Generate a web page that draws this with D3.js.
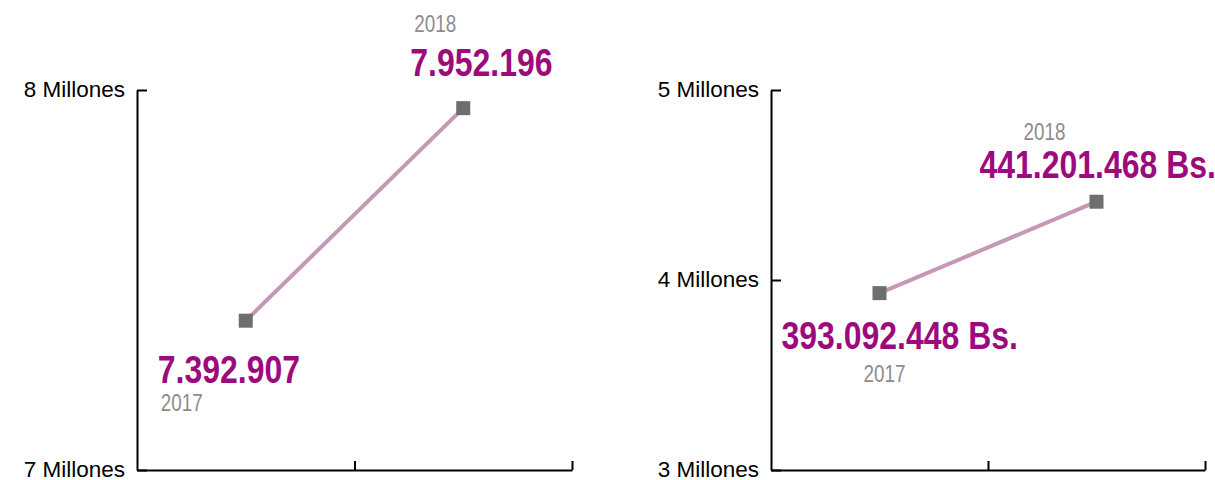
<!DOCTYPE html>
<html><head><meta charset="utf-8">
<script src="https://cdn.jsdelivr.net/npm/d3@7"></script>
<style>
body{margin:0;background:#fff;}
svg{display:block;}
</style></head>
<body><svg id="c" width="1215" height="480"></svg>
<script>
const years = ["2017", "2018"];
const leftValues = [7392907, 7952196];
const leftLabels = ["7.392.907", "7.952.196"];
const leftTicks = [7000000, 8000000];
const rightValues = [3930924.48, 4412014.68];
const rightLabels = ["393.092.448 Bs.", "441.201.468 Bs."];
const rightTicks = [3000000, 4000000, 5000000];

const svg = d3.select("#c");
const sans = "'Liberation Sans', Arial, sans-serif";

function panel(cfg) {
  const g = svg.append("g");
  const x = d3.scaleLinear().domain([0, 2]).range([cfg.x0, cfg.x1]);
  const y = d3.scaleLinear().domain(cfg.domain).range([470, 90]);

  const ya = d3.axisLeft(y).tickValues(cfg.ticks).tickSizeInner(-10).tickSizeOuter(0).tickPadding(12)
    .tickFormat(d => (d / 1e6) + " Millones");
  const yg = g.append("g").attr("transform", `translate(${cfg.x0},0)`).call(ya);
  yg.select(".domain").attr("stroke", "#000").attr("stroke-width", 2);
  yg.selectAll(".tick line").attr("stroke", "#000").attr("stroke-width", 2);
  yg.selectAll(".tick text").attr("font-family", sans)
    .attr("font-size", 22.5).attr("fill", "#000").attr("dy", "0.3em");

  const xa = d3.axisBottom(x).tickValues([1, 2]).tickSizeInner(-9).tickSizeOuter(0).tickFormat("");
  const xg = g.append("g").attr("transform", `translate(0,470)`).call(xa);
  xg.select(".domain").attr("stroke", "#000").attr("stroke-width", 2);
  xg.selectAll(".tick line").attr("stroke", "#000").attr("stroke-width", 2);

  const pts = cfg.values.map((v, i) => ({ x: x(i + 0.5), y: y(v), v, i }));
  g.append("path").datum(pts)
    .attr("d", d3.line().x(d => d.x).y(d => d.y))
    .attr("fill", "none").attr("stroke", "#c797b6").attr("stroke-width", 4);
  g.selectAll("rect.m").data(pts).join("rect").attr("class", "m")
    .attr("x", d => d.x - 7).attr("y", d => d.y - 7).attr("width", 14).attr("height", 14)
    .attr("fill", "#6e6e6e");

  pts.forEach((p, i) => {
    const o = cfg.offsets[i];
    g.append("text").attr("transform", `translate(${p.x + o.vx},${p.y + o.vy}) scale(0.82,1)`)
      .attr("font-family", sans).attr("font-weight", "bold").attr("font-size", 39)
      .attr("fill", "#9c0a7d").text(cfg.labels[i]);
    g.append("text").attr("transform", `translate(${p.x + o.yx},${p.y + o.yy}) scale(0.82,1)`)
      .attr("font-family", sans).attr("font-size", 23)
      .attr("fill", "#8c8c8c").text(years[i]);
  });
}

panel({
  x0: 137, x1: 572, domain: [7000000, 8000000], ticks: leftTicks,
  values: leftValues, labels: leftLabels,
  offsets: [{ vx: -88, vy: 62, yx: -85, yy: 90 }, { vx: -53, vy: -32, yx: -49, yy: -76 }]
});
panel({
  x0: 771, x1: 1205, domain: [3000000, 5000000], ticks: rightTicks,
  values: rightValues, labels: rightLabels,
  offsets: [{ vx: -98, vy: 56, yx: -16, yy: 89 }, { vx: -117, vy: -24, yx: -73, yy: -62 }]
});
</script></body></html>
